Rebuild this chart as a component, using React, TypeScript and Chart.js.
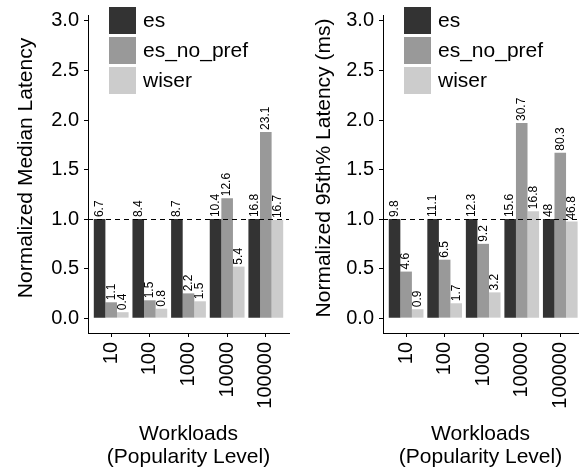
import React, { useEffect, useRef } from 'react';
import { Chart, registerables } from 'chart.js';

Chart.register(...registerables);

const FONT = '"Liberation Sans", Arial, sans-serif';

const categories = ['10', '100', '1000', '10000', '100000'];
const seriesNames = ['es', 'es_no_pref', 'wiser'];
const seriesColors = ['#333333', '#999999', '#cccccc'];
const yTickValues = [0, 0.5, 1, 1.5, 2, 2.5, 3];
const xTitle = ['Workloads', '(Popularity Level)'];

// Left panel: normalized median latency
const medianEs = [1, 1, 1, 1, 1];
const medianEsNoPref = [0.16, 0.18, 0.25, 1.21, 1.88];
const medianWiser = [0.06, 0.095, 0.17, 0.52, 0.99];
const medianEsLabels = ['6.7', '8.4', '8.7', '10.4', '16.8'];
const medianEsNoPrefLabels = ['1.1', '1.5', '2.2', '12.6', '23.1'];
const medianWiserLabels = ['0.4', '0.8', '1.5', '5.4', '16.7'];

// Right panel: normalized 95th percentile latency
const p95Es = [1, 1, 1, 1, 1];
const p95EsNoPref = [0.47, 0.59, 0.75, 1.97, 1.67];
const p95Wiser = [0.09, 0.15, 0.26, 1.08, 0.975];
const p95EsLabels = ['9.8', '11.1', '12.3', '15.6', '48'];
const p95EsNoPrefLabels = ['4.6', '6.5', '9.2', '30.7', '80.3'];
const p95WiserLabels = ['0.9', '1.7', '3.2', '16.8', '46.8'];

type PanelProps = {
  values: number[][];
  labels: string[][];
  yTitle: string;
  width: number;
  left: number;
  yAxisWidth: number;
  xMax: number;
  yTitleX: number;
};

function Panel({ values, labels, yTitle, width, left, yAxisWidth, xMax, yTitleX }: PanelProps) {
  const ref = useRef<HTMLCanvasElement | null>(null);

  useEffect(() => {
    if (!ref.current) return;

    const overlay = {
      id: 'overlay',
      afterDatasetsDraw(chart: any) {
        const { ctx, chartArea, scales } = chart;
        ctx.save();
        // dashed reference line at 1.0
        const y1 = Math.round(scales.y.getPixelForValue(1)) + 0.5;
        ctx.beginPath();
        ctx.setLineDash([5, 4]);
        ctx.strokeStyle = '#000';
        ctx.lineWidth = 1;
        ctx.moveTo(chartArea.left, y1);
        ctx.lineTo(chartArea.right, y1);
        ctx.stroke();
        ctx.setLineDash([]);

        // value labels
        ctx.font = `12px ${FONT}`;
        ctx.fillStyle = '#000';
        ctx.textAlign = 'left';
        ctx.textBaseline = 'middle';
        chart.data.datasets.forEach((_ds: any, di: number) => {
          const meta = chart.getDatasetMeta(di);
          meta.data.forEach((el: any, i: number) => {
            ctx.save();
            ctx.translate(el.x, el.y - 2);
            ctx.rotate(-Math.PI / 2);
            ctx.fillText(labels[di][i], 0, 0);
            ctx.restore();
          });
        });

        // legend
        ctx.font = `21px ${FONT}`;
        seriesNames.forEach((name, i) => {
          const bx = chartArea.left + 21;
          const by = 7 + i * 30;
          ctx.fillStyle = seriesColors[i];
          ctx.fillRect(bx, by, 27, 27);
          ctx.fillStyle = '#000';
          ctx.fillText(name, chartArea.left + 55, by + 14);
        });

        // y axis title
        ctx.save();
        ctx.font = `21px ${FONT}`;
        ctx.textAlign = 'center';
        ctx.textBaseline = 'middle';
        ctx.translate(yTitleX, (chartArea.top + chartArea.bottom) / 2 - 6);
        ctx.rotate(-Math.PI / 2);
        ctx.fillText(yTitle, 0, 0);
        ctx.restore();

        ctx.restore();
      },
    };

    const chart = new Chart(ref.current, {
      type: 'bar',
      data: {
        datasets: seriesNames.map((name, si) => ({
          label: name,
          data: values[si].map((v, i) => ({ x: i, y: v })),
          backgroundColor: seriesColors[si],
          borderWidth: 0,
          categoryPercentage: 0.9,
          barPercentage: 1,
        })),
      },
      options: {
        responsive: false,
        animation: false,
        layout: { padding: { top: 15, right: 1, left: 0, bottom: 0 } },
        plugins: {
          legend: { display: false },
          tooltip: { enabled: false },
        },
        scales: {
          x: {
            type: 'linear',
            offset: false,
            min: -0.6,
            max: xMax,
            afterBuildTicks: (scale: any) => {
              scale.ticks = categories.map((_c, i) => ({ value: i }));
            },
            afterFit: (scale: any) => {
              scale.height = 134;
              scale.paddingLeft = 0;
              scale.paddingRight = 0;
            },
            ticks: {
              autoSkip: false,
              maxRotation: 90,
              minRotation: 90,
              padding: 5,
              color: '#000',
              font: { family: FONT, size: 20 },
              callback: (v: any) => categories[v as number] ?? '',
            },
            grid: {
              display: true,
              offset: false,
              drawOnChartArea: false,
              drawTicks: true,
              tickLength: 4,
              color: '#000',
            },
            border: { display: true, color: '#000', width: 1 },
            title: {
              display: true,
              text: xTitle,
              color: '#000',
              font: { family: FONT, size: 21, lineHeight: 1.1 },
              padding: { top: 0, bottom: -2 },
            },
          },
          y: {
            type: 'linear',
            min: -0.15,
            max: 3.06,
            afterBuildTicks: (scale: any) => {
              scale.ticks = yTickValues.map((v) => ({ value: v }));
            },
            afterFit: (scale: any) => {
              scale.width = yAxisWidth;
              scale.paddingTop = 0;
              scale.paddingBottom = 0;
            },
            ticks: {
              padding: 5,
              color: '#000',
              font: { family: FONT, size: 20 },
              callback: (v: any) => Number(v).toFixed(1),
            },
            grid: {
              display: true,
              drawOnChartArea: false,
              drawTicks: true,
              tickLength: 4,
              color: '#000',
            },
            border: { display: true, color: '#000', width: 1 },
            title: { display: false },
          },
        },
      },
      plugins: [overlay],
    } as any);

    return () => chart.destroy();
  }, []);

  return (
    <div style={{ position: 'absolute', left, top: 0, width, height: 467 }}>
      <canvas ref={ref} width={width} height={467} style={{ width, height: 467, display: 'block' }} />
    </div>
  );
}

export default function App() {
  return (
    <div
      style={{
        position: 'absolute',
        left: 0,
        top: 0,
        width: 579,
        height: 467,
        overflow: 'hidden',
        background: '#fff',
      }}
    >
      <Panel
        values={[medianEs, medianEsNoPref, medianWiser]}
        labels={[medianEsLabels, medianEsNoPrefLabels, medianWiserLabels]}
        yTitle="Normalized Median Latency"
        width={290}
        left={0}
        yAxisWidth={88}
        xMax={4.6}
        yTitleX={26}
      />
      <Panel
        values={[p95Es, p95EsNoPref, p95Wiser]}
        labels={[p95EsLabels, p95EsNoPrefLabels, p95WiserLabels]}
        yTitle="Normalized 95th% Latency (ms)"
        width={289}
        left={290}
        yAxisWidth={93}
        xMax={4.46}
        yTitleX={34}
      />
    </div>
  );
}
